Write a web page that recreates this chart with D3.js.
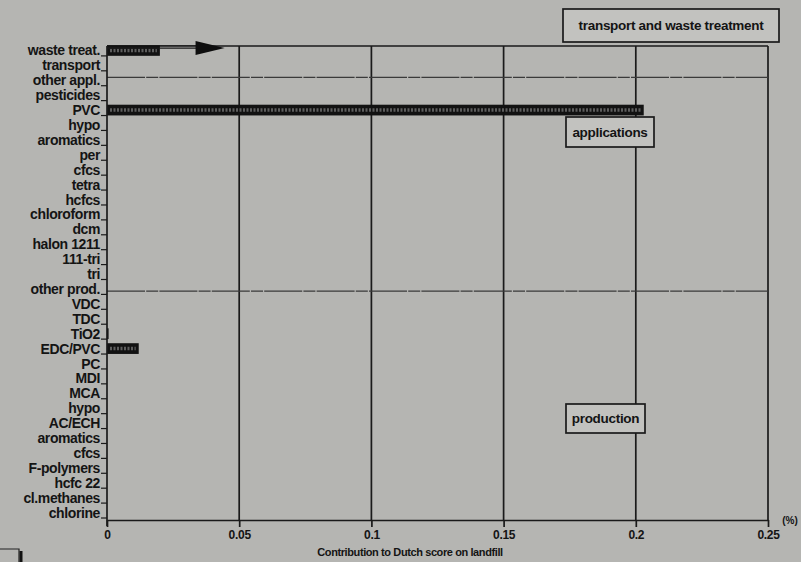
<!DOCTYPE html>
<html>
<head>
<meta charset="utf-8">
<script src="https://cdn.jsdelivr.net/npm/d3@7"></script>
<style>
  html, body { margin: 0; padding: 0; background: #b5b5b2; }
  svg { display: block; }
  text { font-family: "Liberation Sans", Arial, Helvetica, sans-serif; fill: #141414; font-weight: bold; }
</style>
</head>
<body>
<div id="chart"></div>
<script>
// Substances / process steps, top to bottom
const categories = [
  "waste treat.", "transport", "other appl.", "pesticides", "PVC", "hypo",
  "aromatics", "per", "cfcs", "tetra", "hcfcs", "chloroform", "dcm",
  "halon 1211", "111-tri", "tri", "other prod.", "VDC", "TDC", "TiO2",
  "EDC/PVC", "PC", "MDI", "MCA", "hypo", "AC/ECH", "aromatics", "cfcs",
  "F-polymers", "hcfc 22", "cl.methanes", "chlorine"
];
// Contribution to Dutch score on landfill (%)
const values = [
  0.020, 0, 0, 0, 0.203, 0,
  0, 0, 0, 0, 0, 0, 0,
  0, 0, 0, 0, 0, 0, 0.0006,
  0.012, 0, 0, 0, 0, 0, 0, 0,
  0, 0, 0, 0
];
const xTicks = [0, 0.05, 0.1, 0.15, 0.2, 0.25];
const groupLabels = ["transport and waste treatment", "applications", "production"];
// first category of each block after the first one
const groupStarts = ["other appl.", "other prod."];

const W = 801, H = 562;
const svg = d3.select("#chart").append("svg").attr("width", W).attr("height", H);

const x = d3.scaleLinear().domain([0, 0.25]).range([107, 768]);
const y = d3.scaleBand().domain(d3.range(categories.length)).range([43, 520]).paddingInner(0.28).paddingOuter(0.14);
const step = y.step();
const bandTop = i => y(i) - step * y.paddingInner() / 2;
const bandBottom = i => bandTop(i) + step;
const plotTop = 46, plotBottom = 520;
const ink = "#1a1a1a";

// frame: top border
svg.append("line").attr("x1", x(0)).attr("x2", x(0.25)).attr("y1", plotTop).attr("y2", plotTop)
  .attr("stroke", ink).attr("stroke-width", 1.7);
// vertical gridlines (the last one closes the frame)
svg.selectAll("line.grid").data(xTicks.filter(d => d > 0)).join("line")
  .attr("class", "grid")
  .attr("x1", d => x(d)).attr("x2", d => x(d))
  .attr("y1", plotTop).attr("y2", plotBottom)
  .attr("stroke", ink).attr("stroke-width", 1.7);

// block separators
const sepY = (d, k) => k === 0
  ? bandTop(categories.indexOf(d)) + step * 0.3
  : bandBottom(categories.indexOf(d)) - step * 0.35;
svg.selectAll("line.sep").data(groupStarts).join("line")
  .attr("class", "sep")
  .attr("x1", x(0)).attr("x2", x(0.25))
  .attr("y1", sepY).attr("y2", sepY)
  .attr("stroke", "#3a3a3a").attr("stroke-width", 1.2).attr("stroke-dasharray", "38,1.2,12,1.2");

// bars
const barData = values.map((v, i) => ({ i, v })).filter(d => d.v > 0);
svg.selectAll("rect.bar").data(barData).join("rect")
  .attr("class", "bar")
  .attr("x", x(0)).attr("y", d => y(d.i))
  .attr("width", d => x(d.v) - x(0)).attr("height", y.bandwidth())
  .attr("fill", "#121212");
svg.selectAll("line.hatch").data(barData.filter(d => x(d.v) - x(0) > 6)).join("line")
  .attr("class", "hatch")
  .attr("x1", x(0) + 3).attr("x2", d => x(d.v) - 3)
  .attr("y1", d => y(d.i) + y.bandwidth() / 2).attr("y2", d => y(d.i) + y.bandwidth() / 2)
  .attr("stroke", "#5e5e5e").attr("stroke-width", 3.5).attr("stroke-dasharray", "2,1.5");

// arrow next to the waste treatment bar
const arrowY = y(0) + 3;
svg.append("line").attr("x1", x(0)).attr("x2", x(0.036)).attr("y1", arrowY).attr("y2", arrowY)
  .attr("stroke", ink).attr("stroke-width", 1.3);
svg.append("line").attr("x1", x(0)).attr("x2", x(0.036)).attr("y1", arrowY - 2.5).attr("y2", arrowY - 2.5)
  .attr("stroke", ink).attr("stroke-width", 0.8);
svg.append("path")
  .attr("d", `M${x(0.0335)},${arrowY - 7} L${x(0.0445)},${arrowY} L${x(0.0335)},${arrowY + 7} Z`)
  .attr("fill", "#0e0e0e");

// y axis
svg.append("line").attr("x1", x(0)).attr("x2", x(0)).attr("y1", plotTop).attr("y2", plotBottom + 6)
  .attr("stroke", ink).attr("stroke-width", 1.7);
svg.selectAll("line.ytick").data(d3.range(categories.length)).join("line")
  .attr("class", "ytick")
  .attr("x1", x(0) - 6).attr("x2", x(0))
  .attr("y1", i => bandBottom(i) - 2).attr("y2", i => bandBottom(i) - 2)
  .attr("stroke", ink).attr("stroke-width", 1.2);
svg.selectAll("text.ylab").data(categories).join("text")
  .attr("class", "ylab")
  .attr("x", x(0) - 7)
  .attr("y", (d, i) => y(i) + y.bandwidth() / 2)
  .attr("dy", "0.36em")
  .attr("text-anchor", "end")
  .attr("font-size", 14)
  .attr("letter-spacing", "-0.4")
  .text(d => d);

// x axis
const xAxis = d3.axisBottom(x).tickValues(xTicks).tickSize(7).tickSizeOuter(0)
  .tickFormat(d => d === 0 ? "0" : String(d));
const gx = svg.append("g").attr("transform", `translate(0,${plotBottom})`).call(xAxis);
gx.select(".domain").attr("stroke", ink).attr("stroke-width", 1.7);
gx.selectAll(".tick line").attr("stroke", ink).attr("stroke-width", 1.7);
gx.selectAll(".tick text").attr("font-size", 12).attr("fill", "#141414")
  .attr("font-weight", "bold").attr("letter-spacing", "-0.3")
  .attr("font-family", "Liberation Sans, Arial, sans-serif");

svg.append("text").attr("x", x(0.25) + 22).attr("y", plotBottom + 4)
  .attr("text-anchor", "middle").attr("font-size", 10).text("(%)");
svg.append("text").attr("x", 410).attr("y", 556)
  .attr("text-anchor", "middle").attr("font-size", 11).attr("letter-spacing", "-0.4")
  .text("Contribution to Dutch score on landfill");

// block labels
const boxes = [
  { x: 563, y: 9, w: 216, h: 33 },
  { x: 566, y: 117, w: 88, h: 30 },
  { x: 566, y: 404, w: 79, h: 29 }
];
const gBox = svg.selectAll("g.box").data(groupLabels).join("g").attr("class", "box");
gBox.append("rect")
  .attr("x", (d, k) => boxes[k].x).attr("y", (d, k) => boxes[k].y)
  .attr("width", (d, k) => boxes[k].w).attr("height", (d, k) => boxes[k].h)
  .attr("fill", "#c2c2bf").attr("stroke", ink).attr("stroke-width", 1.7);
gBox.append("text")
  .attr("x", (d, k) => boxes[k].x + boxes[k].w / 2)
  .attr("y", (d, k) => boxes[k].y + boxes[k].h / 2)
  .attr("dy", "0.35em").attr("text-anchor", "middle").attr("font-size", 13.5)
  .attr("letter-spacing", "-0.3")
  .text(d => d);

// page corner at the bottom left
svg.append("path").attr("d", "M0,549 L19,549 L19,562").attr("fill", "none")
  .attr("stroke", "#222").attr("stroke-width", 1.2);
svg.append("line").attr("x1", 21).attr("x2", 21).attr("y1", 551).attr("y2", 562)
  .attr("stroke", "#111").attr("stroke-width", 3);
</script>
</body>
</html>
